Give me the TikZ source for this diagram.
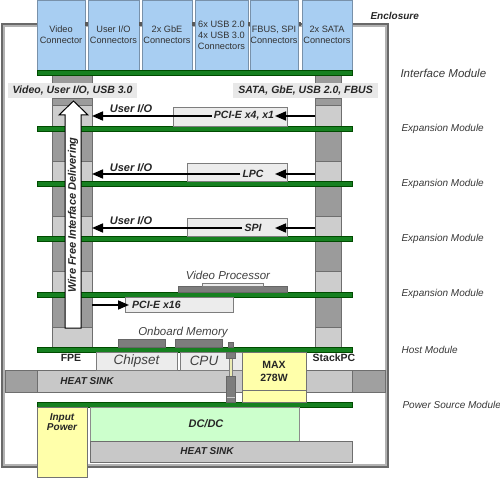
\documentclass[tikz,border=0pt]{standalone}
\usepackage{fontspec}
\setmainfont{Liberation Sans}
\usetikzlibrary{arrows.meta}
\definecolor{connblue}{RGB}{168,206,242}
\definecolor{connedge}{RGB}{120,145,170}
\definecolor{boardgreen}{RGB}{22,128,32}
\definecolor{boardedge}{RGB}{0,75,0}
\definecolor{segdark}{RGB}{155,155,155}
\definecolor{seglight}{RGB}{205,205,205}
\definecolor{segedge}{RGB}{110,110,110}
\definecolor{bandgray}{RGB}{232,232,232}
\definecolor{boxgray}{RGB}{236,236,236}
\definecolor{boxedge}{RGB}{125,125,125}
\definecolor{chipgray}{RGB}{125,125,125}
\definecolor{sinklight}{RGB}{200,200,200}
\definecolor{sinkdark}{RGB}{160,160,160}
\definecolor{pyellow}{RGB}{255,255,170}
\definecolor{dcgreen}{RGB}{204,255,204}
\definecolor{encdark}{RGB}{105,105,105}
\definecolor{enclight}{RGB}{178,178,178}
\definecolor{labelgray}{RGB}{55,55,55}
\definecolor{rodyellow}{RGB}{235,235,180}
\newcommand{\rbx}[7]{\node[#1, inner sep=0pt, outer sep=0pt, minimum width={(#4)-(#2)}, minimum height={(#5)-(#3)}] (#6) at ({((#2)+(#4))/2},{((#3)+(#5))/2}) {#7};}
\begin{document}
\begin{tikzpicture}[x=1pt,y=-1pt,
  conn/.style={rectangle, fill=connblue, draw=connedge, line width=0.6, align=center, font=\fontsize{9.2}{11}\selectfont, text=black!80},
  board/.style={rectangle, fill=boardgreen, draw=boardedge, line width=0.5},
  segD/.style={rectangle, fill=segdark, draw=segedge, line width=0.5},
  segL/.style={rectangle, fill=seglight, draw=segedge, line width=0.5},
  gbox/.style={rectangle, fill=boxgray, draw=boxedge, line width=0.6},
  chip/.style={rectangle, fill=chipgray, draw=black!60, line width=0.5},
  sinkL/.style={rectangle, fill=sinklight, draw=segedge, line width=0.6},
  sinkD/.style={rectangle, fill=sinkdark, draw=segedge, line width=0.6},
  ybox/.style={rectangle, fill=pyellow, draw=black!55, line width=0.6},
  gnbox/.style={rectangle, fill=dcgreen, draw=black!45, line width=0.6},
  bi/.style={font=\fontsize{#1}{#1}\selectfont\bfseries\itshape, text=black!85},
  bi/.default=10.5,
  modlbl/.style={anchor=west, text=labelgray, font=\fontsize{#1}{#1}\selectfont\itshape},
  modlbl/.default=10,
  arr/.style={line width=1.6, -{Triangle[length=11pt,width=9pt]}},
]
\useasboundingbox (0,0) rectangle (500,478);
% enclosure
\draw[encdark, line width=2.4] (2.2,24) rectangle (388,467);
\draw[enclight, line width=2] (4.4,26.2) rectangle (385.6,464.8);
% heat sink (host)
\rbx{sinkD}{5}{370}{37}{392}{hsl}{}
\rbx{sinkL}{37}{370}{352}{392}{hs1}{}
\rbx{sinkD}{352}{370}{385}{392}{hsr}{}
\node[bi=10] at (87,381) {HEAT SINK};
% connectors
\rbx{conn}{37}{0}{85}{70}{c1}{Video\\Connector}
\rbx{conn}{88}{0}{139}{70}{c2}{User I/O\\Connectors}
\rbx{conn}{142}{0}{192}{70}{c3}{2x GbE\\Connectors}
\rbx{conn}{195}{0}{248}{70}{c4}{6x USB 2.0\\4x USB 3.0\\Connectors}
\rbx{conn}{250}{0}{298}{70}{c5}{FBUS, SPI\\Connectors}
\rbx{conn}{302}{0}{352}{70}{c6}{2x SATA\\Connectors}
\foreach \xx in {86.5,140.5,193.5,249,300}
  \fill[black!65] (\xx-1.1,22) rectangle (\xx+1.1,26);
\node[anchor=west, bi=10] (encl) at (367,16) {Enclosure};
% columns
\foreach \s/\xa/\xb in {L/52/92, R/315/341}{
  \rbx{segD}{\xa}{75}{\xb}{83}{\s0}{}
  \rbx{segD}{\xa}{98}{\xb}{105}{\s D1}{}
  \rbx{segL}{\xa}{105}{\xb}{126}{\s L1}{}
  \rbx{segD}{\xa}{131}{\xb}{161}{\s D2}{}
  \rbx{segL}{\xa}{161}{\xb}{181}{\s L2}{}
  \rbx{segD}{\xa}{186}{\xb}{216}{\s D3}{}
  \rbx{segL}{\xa}{216}{\xb}{236}{\s L3}{}
  \rbx{segD}{\xa}{241}{\xb}{271}{\s D4}{}
  \rbx{segL}{\xa}{271}{\xb}{292}{\s L4}{}
  \rbx{segD}{\xa}{297}{\xb}{327}{\s D5}{}
  \rbx{segL}{\xa}{327}{\xb}{347}{\s L5}{}
}
% bus labels
\node[bi=10.5, fill=bandgray, inner xsep=5, minimum height=15] (busl) at (72.5,90.5) {Video, User I/O, USB 3.0};
\node[bi=10.5, fill=bandgray, inner xsep=5, minimum height=15, anchor=east] (busr) at (378,90.5) {SATA, GbE, USB 2.0, FBUS};
% boards
\rbx{board}{37}{70}{352}{75}{bIF}{}
\rbx{board}{37}{126}{352}{131}{bE1}{}
\rbx{board}{37}{181}{352}{186}{bE2}{}
\rbx{board}{37}{236}{352}{241}{bE3}{}
\rbx{board}{37}{292}{352}{297}{bE4}{}
\rbx{board}{37}{347}{352}{352}{bH}{}
\rbx{board}{37}{402}{352}{407}{bP}{}
% module labels
\node[modlbl=11.5] at (397,73) {Interface Module};
\node[modlbl] at (398,128.5) {Expansion Module};
\node[modlbl] at (398,183.5) {Expansion Module};
\node[modlbl] at (398,238.5) {Expansion Module};
\node[modlbl] at (398,294) {Expansion Module};
\node[modlbl] at (398,349.5) {Host Module};
\node[modlbl=10] at (399,404.5) {Power Source Module};
% expansion boxes
\rbx{gbox}{173}{107}{287}{126}{b1}{}
\rbx{gbox}{187}{163}{287}{181}{b2}{}
\rbx{gbox}{187}{218}{287}{236}{b3}{}
\rbx{gbox}{125}{297}{233}{312}{b4}{}
% video processor
\rbx{chip}{178}{286}{287}{292}{vp}{}
\rbx{gbox}{202}{283}{263}{286}{vpt}{}
\node[font=\fontsize{11.5}{11.5}\selectfont\itshape, text=black!75] at (228,275) {Video Processor};
% memory
\rbx{chip}{118}{339}{165}{347}{m1}{}
\rbx{chip}{175}{339}{222}{347}{m2}{}
\node[font=\fontsize{11.5}{11.5}\selectfont\itshape, text=black!75] at (183,333) {Onboard Memory};
% host parts
\rbx{gbox}{96}{352}{177}{370}{chipset}{}
\node[font=\fontsize{13.5}{13.5}\selectfont\itshape, text=black!75] at (136.5,361) {Chipset};
\rbx{gbox}{180}{352}{242}{370}{cpu}{}
\node[font=\fontsize{13.5}{13.5}\selectfont\itshape, text=black!75] at (204,361) {CPU};
\rbx{ybox}{242}{390}{306}{402}{maxb}{}
\rbx{ybox}{242}{352}{306}{390}{max}{}
\node[font=\fontsize{10.5}{13}\selectfont\bfseries, align=center, text=black!85] at (274,371) {MAX\\278W};
\node[font=\fontsize{10.5}{10.5}\selectfont\bfseries, text=black!85] (fpe) at (71,358) {FPE};
\node[font=\fontsize{10.5}{10.5}\selectfont\bfseries, text=black!85] (spc) at (334,358) {StackPC};
% standoff
\fill[rodyellow, draw=black!50, line width=0.4] (229.5,358) rectangle (232.5,376);
\rbx{chip}{228.5}{342}{233.5}{347}{st0}{}
\rbx{chip}{226.5}{352}{235}{358}{st1}{}
\rbx{chip}{226.5}{376}{235}{402}{st2}{}
\draw[black!20, line width=0.8] (226.5,397.5) -- (235,397.5);
\rbx{chip}{228.5}{407}{233.5}{411}{st3}{}
% power source module
\rbx{ybox}{37}{407}{87}{477}{inp}{}
\node[bi=10, align=center] at (62,422) {Input\\Power};
\rbx{gnbox}{90}{407}{299}{441}{dcdc}{}
\node[bi=11] at (206,424) {DC/DC};
\rbx{sinkL}{90}{441}{352}{462}{hs2}{}
\node[bi=10] at (207,451.5) {HEAT SINK};
% wire free arrow
\draw[fill=white, draw=black, line width=1] (65,328) -- (65,115) -- (59,115) -- (73.5,101) -- (88,115) -- (81,115) -- (81,328) -- cycle;
\node[bi=11, rotate=90] (wf) at (73,215) {Wire Free Interface Delivering};
% signal arrows
\node[bi=10.5, inner sep=2] (t1) at (244,116) {PCI-E x4, x1};
\node[bi=10.5, inner sep=2] (t2) at (253,174) {LPC};
\node[bi=10.5, inner sep=2] (t3) at (253,228) {SPI};
\node[bi=10.5, inner sep=3, anchor=west] (t4) at (129,305) {PCI-E x16};
\coordinate (tip1) at (275,116);
\coordinate (tip2) at (275,174);
\coordinate (tip3) at (275,228);
\draw[arr] (RL1.west |- tip1) -- (tip1);
\draw[arr] (t1.west) -- (LL1.east |- t1.west);
\draw[arr] (RL2.west |- tip2) -- (tip2);
\draw[arr] (t2.west) -- (LL2.east |- t2.west);
\draw[arr] (RL3.west |- tip3) -- (tip3);
\draw[arr] (t3.west) -- (LL3.east |- t3.west);
\draw[arr] (LD5.east |- t4.west) -- (t4.west);
\node[bi=11] (u1) at (131,109) {User I/O};
\node[bi=11] (u2) at (131,167.5) {User I/O};
\node[bi=11] (u3) at (131,221) {User I/O};
\end{tikzpicture}
\end{document}
